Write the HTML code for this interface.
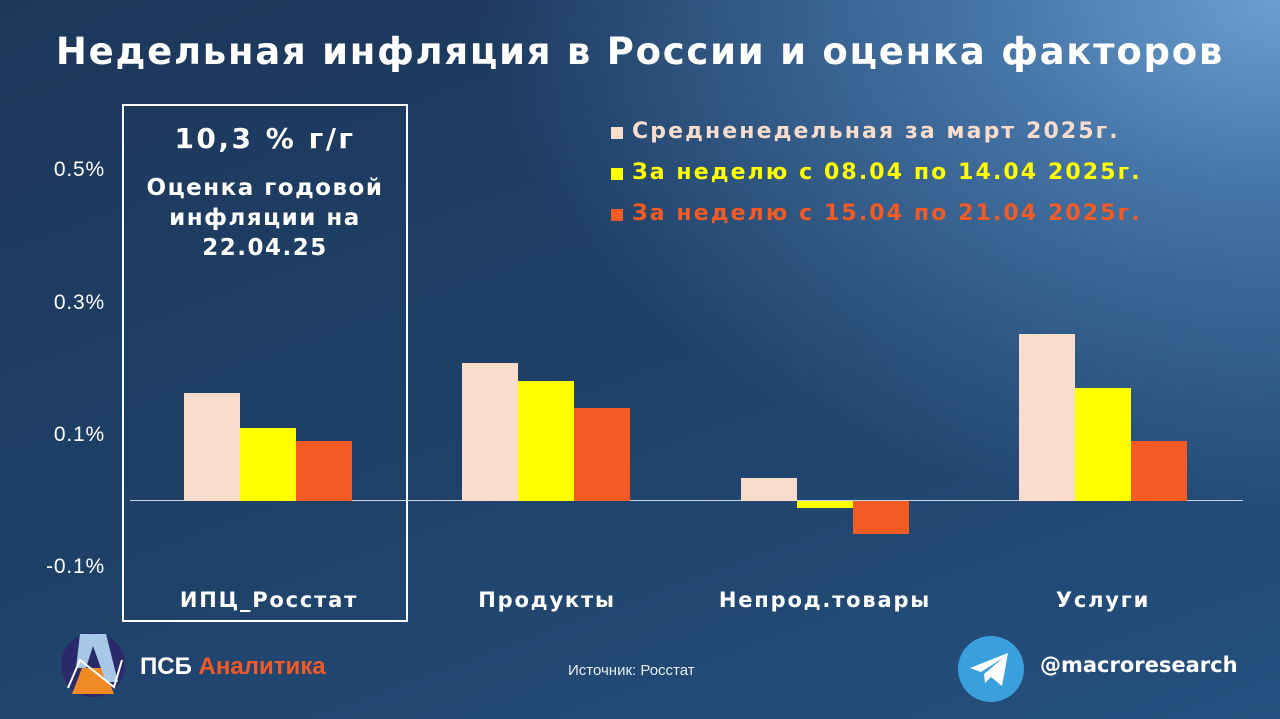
<!DOCTYPE html>
<html><head><meta charset="utf-8"><style>
*{margin:0;padding:0}
body{width:1280px;height:719px;overflow:hidden;position:relative;font-family:"Liberation Sans","DejaVu Sans",sans-serif;
background:radial-gradient(ellipse 1000px 650px at 1280px 0px,#6a9fd0 0%,#4574a6 30%,rgba(35,70,112,0) 80%),linear-gradient(160deg,#1c375a 0%,#1f4168 50%,#25507f 100%);color:#fff}
.a{position:absolute}
.t{font-weight:bold;white-space:nowrap}
.bar{position:absolute;width:56px}
.p{background:#f9dccc}.y{background:#ffff00}.o{background:#f45a23}
.yl{font-size:21px;color:#fff;text-align:right;width:75px;left:30px;letter-spacing:0.8px}
.c{text-align:center;font-size:21px;font-family:'DejaVu Sans',sans-serif;letter-spacing:1.8px}
.lg{font-size:22px;font-family:'DejaVu Sans',sans-serif;letter-spacing:2.1px}
</style></head><body>
<div class="a t" style="left:0;width:1280px;top:30px;text-align:center;font-size:37px;letter-spacing:1.75px;font-family:'DejaVu Sans',sans-serif">Недельная инфляция в России и оценка факторов</div>
<div class="a" style="left:122px;top:104px;width:282px;height:514px;border:2px solid #fff"></div>
<div class="a t" style="left:122px;width:286px;top:122px;text-align:center;font-size:28px;letter-spacing:2.5px;font-family:'DejaVu Sans',sans-serif">10,3 % г/г</div>
<div class="a t" style="left:122px;width:286px;top:173px;text-align:center;font-size:23px;line-height:30px;letter-spacing:1.5px;font-family:'DejaVu Sans',sans-serif">Оценка годовой<br>инфляции на<br>22.04.25</div>
<div class="a yl" style="top:158px">0.5%</div>
<div class="a yl" style="top:291px">0.3%</div>
<div class="a yl" style="top:423px">0.1%</div>
<div class="a yl" style="top:555px">-0.1%</div>
<div class="a" style="left:130px;top:500px;width:1113px;height:1px;background:#c8d4e0"></div>
<div class="bar p" style="left:184px;top:393px;height:108px"></div>
<div class="bar y" style="left:240px;top:428px;height:73px"></div>
<div class="bar o" style="left:296px;top:441px;height:60px"></div>
<div class="bar p" style="left:462px;top:363px;height:138px"></div>
<div class="bar y" style="left:518px;top:381px;height:120px"></div>
<div class="bar o" style="left:574px;top:408px;height:93px"></div>
<div class="bar p" style="left:741px;top:478px;height:23px"></div>
<div class="bar y" style="left:797px;top:501px;height:7px"></div>
<div class="bar o" style="left:853px;top:501px;height:33px"></div>
<div class="bar p" style="left:1019px;top:334px;height:167px"></div>
<div class="bar y" style="left:1075px;top:388px;height:113px"></div>
<div class="bar o" style="left:1131px;top:441px;height:60px"></div>
<div class="a t c" style="left:130px;width:278px;top:588px">ИПЦ_Росстат</div>
<div class="a t c" style="left:408px;width:278px;top:588px">Продукты</div>
<div class="a t c" style="left:686px;width:278px;top:588px">Непрод.товары</div>
<div class="a t c" style="left:964px;width:278px;top:588px">Услуги</div>
<div class="a" style="left:611px;top:127px;width:12px;height:12px;background:#f9dccc"></div>
<div class="a t lg" style="left:632px;top:119px;color:#f9dccc">Средненедельная за март 2025г.</div>
<div class="a" style="left:611px;top:168px;width:12px;height:12px;background:#ffff00"></div>
<div class="a t lg" style="left:632px;top:160px;color:#ffff00">За неделю с 08.04 по 14.04 2025г.</div>
<div class="a" style="left:611px;top:209px;width:12px;height:12px;background:#f45a23"></div>
<div class="a t lg" style="left:632px;top:201px;color:#f45a23">За неделю с 15.04 по 21.04 2025г.</div>
<svg class="a" style="left:60px;top:632px" width="66" height="66" viewBox="0 0 66 66">
<circle cx="33" cy="33" r="32" fill="#2a2a6a"/>
<path d="M12 62 L22 36 L44 36 L54 62 Z" fill="#f08a24"/>
<path d="M20 2 L46 2 L58 50 L46 50 L33 14 L26 36 L16 36 Z" fill="#a8c8e8"/>
<polyline points="8,56 20,28 54,55 62,28" fill="none" stroke="#fff" stroke-width="2"/>
</svg>
<div class="a t" style="left:140px;top:653px;font-size:24px"><span>ПСБ</span> <span style="color:#f05a28">Аналитика</span></div>
<div class="a" style="left:568px;top:662px;font-size:15px;color:#e8eef5">Источник: Росстат</div>
<svg class="a" style="left:958px;top:636px" width="66" height="66" viewBox="0 0 66 66">
<circle cx="33" cy="33" r="33" fill="#3aa0dd"/>
<path d="M12 32 L50 17 L44 50 L33 41 L27 47 L26 38 L45 22 L23 36 Z" fill="#fff"/>
</svg>
<div class="a t" style="left:1040px;top:653px;font-size:21px;font-family:'DejaVu Sans',sans-serif">@macroresearch</div>
</body></html>
